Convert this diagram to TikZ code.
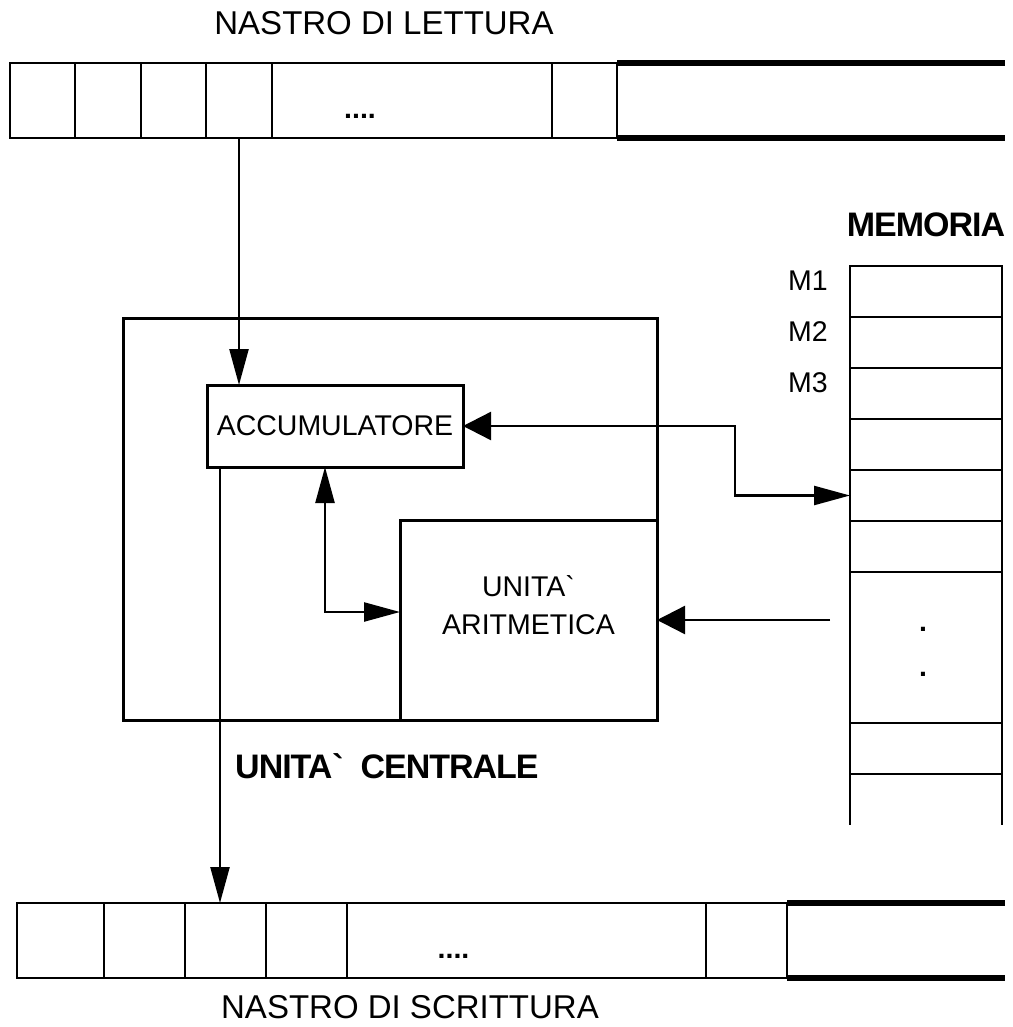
\documentclass[tikz,border=0pt]{standalone}
\usepackage{fontspec}
\setmainfont{Liberation Sans}
\newfontfamily\condbold{Liberation Sans}[LetterSpace=-3]
\usepackage{tikz}
\usetikzlibrary{positioning, arrows.meta, calc}

\begin{document}
\begin{tikzpicture}[
  x=1pt, y=-1pt,
  cell/.style={draw, line width=2.6pt, outer sep=0pt, inner sep=0pt, minimum height=75pt, minimum width=66pt},
  tapedots/.style={font=\fontsize{28.5}{34}\selectfont\bfseries, inner sep=0pt},
  tapeedge/.style={line width=5.5pt},
  memcell/.style={draw, line width=2.6pt, outer sep=0pt, inner sep=0pt, minimum height=51pt, minimum width=152pt},
  unitbox/.style={draw, line width=3pt, outer sep=0pt, inner sep=0pt},
  boxtext/.style={font=\fontsize{28.5}{38}\selectfont, align=center, inner sep=0pt},
  memlabel/.style={font=\fontsize{28.5}{34}\selectfont, inner sep=0pt},
  tapetitle/.style={font=\fontsize{33}{38}\selectfont, inner sep=0pt},
  heading/.style={font=\fontsize{34}{38}\condbold\bfseries, inner sep=0pt},
  narrowtip/.tip={Triangle[length=36pt, width=19pt]},
  widetip/.tip={Triangle[length=28pt, width=28pt]},
  arr/.style={-narrowtip, line width=2.4pt},
  arrwide/.style={-widetip, line width=2.4pt},
  dblarr/.style={narrowtip-narrowtip, line width=2.4pt},
]
\useasboundingbox (0,0) rectangle (1012,1027);

% === Reading tape ===
\node[tapetitle] (rdtitle) at (384,23) {NASTRO DI LETTURA};
\node[cell, anchor=north west, minimum width=65pt] (rd1) at (10,63) {};
\node[cell, right=0pt of rd1] (rd2) {};
\node[cell, right=0pt of rd2, minimum width=65pt] (rd3) {};
\node[cell, right=0pt of rd3] (rd4) {};
\node[cell, right=0pt of rd4, minimum width=280pt,
      label={[tapedots, xshift=-52pt, yshift=-16pt]center:....}] (rd5) {};
\node[cell, right=0pt of rd5, minimum width=65pt] (rd6) {};
\coordinate (rdtop) at (1005,63);
\coordinate (rdbot) at (1005,138);
\draw[tapeedge] (rd6.north east) -- (rdtop);
\draw[tapeedge] (rd6.south east) -- (rdbot);

% === Central unit ===
\node[unitbox, anchor=north west, minimum width=534pt, minimum height=402pt] (cpu) at (123,318) {};
\node[unitbox, anchor=north west, minimum width=256pt, minimum height=82pt,
      font=\fontsize{28.5}{34}\selectfont] (acc) at (207,385) {ACCUMULATORE};
\node[unitbox, anchor=south east, minimum width=257pt, minimum height=200pt] (alu) at (cpu.south east) {};
\node[boxtext] (alutext) at ([yshift=15pt]alu.center) {UNITA\textasciigrave\\ARITMETICA};
\node[heading, below right=33pt and 112pt of cpu.south west, anchor=north west] (cpulabel) {UNITA\textasciigrave\ \ CENTRALE};

% === Memory ===
\node[memcell, anchor=north west] (mem1) at (850,266) {};
\node[memcell, below=0pt of mem1] (mem2) {};
\node[memcell, below=0pt of mem2] (mem3) {};
\node[memcell, below=0pt of mem3] (mem4) {};
\node[memcell, below=0pt of mem4] (mem5) {};
\node[memcell, below=0pt of mem5] (mem6) {};
\node[memcell, below=0pt of mem6, minimum height=151pt,
      label={[tapedots, align=center, font=\fontsize{28.5}{45}\selectfont\bfseries, xshift=-3pt, yshift=-4pt]center:.\\.}] (memdots) {};
\node[memcell, below=0pt of memdots] (mem7) {};
\coordinate (memtailL) at ($(mem7.south west)+(0,51)$);
\coordinate (memtailR) at ($(mem7.south east)+(0,51)$);
\draw[line width=2.6pt] (mem7.south west) -- (memtailL);
\draw[line width=2.6pt] (mem7.south east) -- (memtailR);

\node[heading, above=29pt of mem1.north] (memtitle) {MEMORIA};
\node[memlabel, left=22pt of mem1.west, yshift=11pt] (m1) {M1};
\node[memlabel, left=22pt of mem2.west, yshift=11pt] (m2) {M2};
\node[memlabel, left=22pt of mem3.west, yshift=11pt] (m3) {M3};

% === Writing tape ===
\node[cell, anchor=north west, minimum width=87pt] (wt1) at (17,903) {};
\node[cell, right=0pt of wt1, minimum width=81pt] (wt2) {};
\node[cell, right=0pt of wt2, minimum width=81pt] (wt3) {};
\node[cell, right=0pt of wt3, minimum width=81pt] (wt4) {};
\node[cell, right=0pt of wt4, minimum width=359pt,
      label={[tapedots, xshift=-73pt, yshift=-16pt]center:....}] (wt5) {};
\node[cell, right=0pt of wt5, minimum width=81pt] (wt6) {};
\coordinate (wttop) at (1005,903);
\coordinate (wtbot) at (1005,978);
\draw[tapeedge] (wt6.north east) -- (wttop);
\draw[tapeedge] (wt6.south east) -- (wtbot);
\node[tapetitle] (wttitle) at (410,1007) {NASTRO DI SCRITTURA};

% === Connections ===
\draw[arr] (rd4.south) -- (rd4.south |- acc.north);
\draw[widetip-narrowtip, line width=2.4pt] (acc.east) -- ++(272,0) |- (mem5.west);
\draw[dblarr] ([xshift=-10pt]acc.south) |- ([yshift=8pt]alu.west);
\coordinate (memfeed) at ([xshift=-20pt]memdots.west |- alu.east);
\draw[arrwide] (memfeed) -- (alu.east);
\draw[arr] ([xshift=13pt]acc.south west) -- ([xshift=13pt]acc.south west |- wt3.north);

\end{tikzpicture}
\end{document}
